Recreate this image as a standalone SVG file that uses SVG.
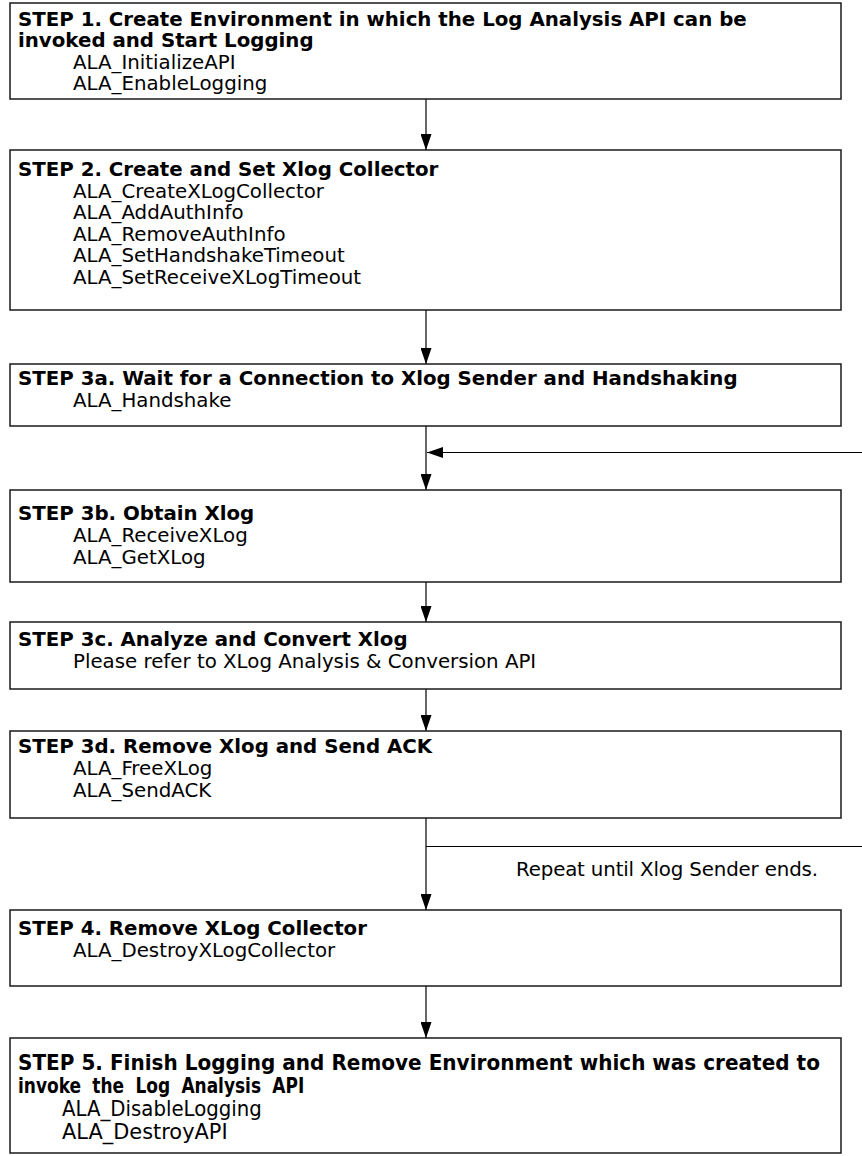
<svg xmlns="http://www.w3.org/2000/svg" width="862" height="1156" viewBox="0 0 862 1156">
<defs>
<marker id="ah" markerWidth="16" markerHeight="11" refX="16" refY="5.5" orient="auto" markerUnits="userSpaceOnUse" viewBox="0 0 16 11">
<path d="M0,0 L16,5.5 L0,11 Z" fill="#000"/>
</marker>
<style>
.box{fill:#fff;stroke:#1a1a1a;stroke-width:1.5}
.t{font-family:"DejaVu Sans",Verdana,sans-serif;font-size:19.8px;font-weight:bold;fill:#000}
.s{font-family:"DejaVu Sans",Verdana,sans-serif;font-size:19.8px;fill:#000}
.c{font-family:"DejaVu Sans Condensed","DejaVu Sans",sans-serif;font-size:21px;fill:#000}
.cb{font-weight:bold}
.ln{stroke:#000;stroke-width:1.2;fill:none}
</style>
</defs>
<rect width="862" height="1156" fill="#fff"/>
<g id="connectors">
<line class="ln" x1="426" y1="99" x2="426" y2="150" marker-end="url(#ah)"/>
<line class="ln" x1="426" y1="310" x2="426" y2="364" marker-end="url(#ah)"/>
<line class="ln" x1="426" y1="426" x2="426" y2="490" marker-end="url(#ah)"/>
<line class="ln" x1="862" y1="452.5" x2="427" y2="452.5" marker-end="url(#ah)"/>
<line class="ln" x1="426" y1="582" x2="426" y2="622" marker-end="url(#ah)"/>
<line class="ln" x1="426" y1="689" x2="426" y2="731" marker-end="url(#ah)"/>
<line class="ln" x1="426" y1="818" x2="426" y2="910" marker-end="url(#ah)"/>
<line class="ln" x1="426" y1="846.5" x2="862" y2="846.5"/>
<line class="ln" x1="426" y1="986" x2="426" y2="1038" marker-end="url(#ah)"/>
<text class="s" x="516" y="876" textLength="302">Repeat until Xlog Sender ends.</text>
</g>
<g id="step1">
<rect class="box" x="10" y="3" width="831" height="96"/>
<text class="t" x="18" y="26">STEP 1. Create Environment in which the Log Analysis API can be</text>
<text class="t" x="18" y="47">invoked and Start Logging</text>
<text class="s" x="73" y="69">ALA_InitializeAPI</text>
<text class="s" x="73" y="90">ALA_EnableLogging</text>
</g>
<g id="step2">
<rect class="box" x="10" y="150" width="831" height="160"/>
<text class="t" x="18" y="176">STEP 2. Create and Set Xlog Collector</text>
<text class="s" x="73" y="198">ALA_CreateXLogCollector</text>
<text class="s" x="73" y="219">ALA_AddAuthInfo</text>
<text class="s" x="73" y="241">ALA_RemoveAuthInfo</text>
<text class="s" x="73" y="262">ALA_SetHandshakeTimeout</text>
<text class="s" x="73" y="284">ALA_SetReceiveXLogTimeout</text>
</g>
<g id="step3a">
<rect class="box" x="10" y="364" width="831" height="62"/>
<text class="t" x="18" y="385">STEP 3a. Wait for a Connection to Xlog Sender and Handshaking</text>
<text class="s" x="73" y="407">ALA_Handshake</text>
</g>
<g id="step3b">
<rect class="box" x="10" y="490" width="831" height="92"/>
<text class="t" x="18" y="520">STEP 3b. Obtain Xlog</text>
<text class="s" x="73" y="542">ALA_ReceiveXLog</text>
<text class="s" x="73" y="564">ALA_GetXLog</text>
</g>
<g id="step3c">
<rect class="box" x="10" y="622" width="831" height="67"/>
<text class="t" x="18" y="646">STEP 3c. Analyze and Convert Xlog</text>
<text class="s" x="73" y="668">Please refer to XLog Analysis &amp; Conversion API</text>
</g>
<g id="step3d">
<rect class="box" x="10" y="731" width="831" height="87"/>
<text class="t" x="18" y="753">STEP 3d. Remove Xlog and Send ACK</text>
<text class="s" x="73" y="775">ALA_FreeXLog</text>
<text class="s" x="73" y="797">ALA_SendACK</text>
</g>
<g id="step4">
<rect class="box" x="10" y="910" width="831" height="76"/>
<text class="t" x="18" y="935">STEP 4. Remove XLog Collector</text>
<text class="s" x="73" y="957">ALA_DestroyXLogCollector</text>
</g>
<g id="step5">
<rect class="box" x="10" y="1038" width="831" height="115"/>
<g transform="translate(18,0) scale(0.9,1)">
<text class="c cb" x="0" y="1070" textLength="891" lengthAdjust="spacingAndGlyphs">STEP 5. Finish Logging and Remove Environment which was created to</text>
<text class="c cb" x="0" y="1093" word-spacing="6">invoke the Log Analysis API</text>
</g>
<g transform="translate(62,0) scale(0.9,1)">
<text class="c" x="0" y="1116" textLength="222" lengthAdjust="spacingAndGlyphs">ALA_DisableLogging</text>
<text class="c" x="0" y="1139" textLength="184" lengthAdjust="spacingAndGlyphs">ALA_DestroyAPI</text>
</g>
</g>
</svg>
